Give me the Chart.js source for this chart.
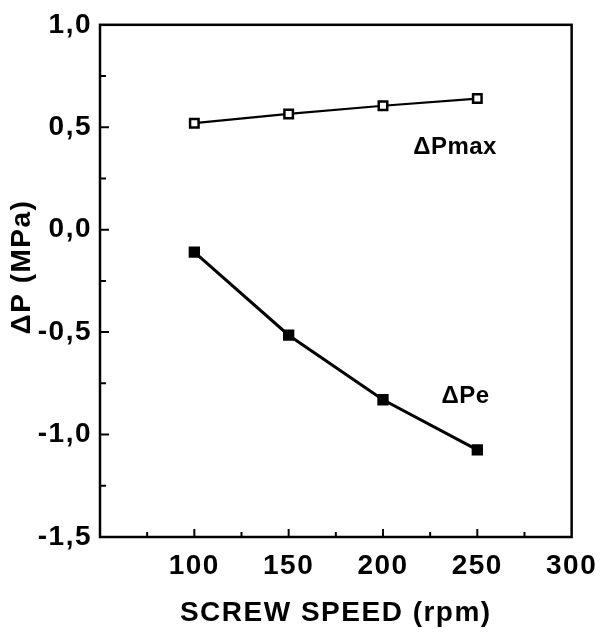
<!DOCTYPE html>
<html>
<head>
<meta charset="utf-8">
<script src="https://cdn.jsdelivr.net/npm/chart.js@4/dist/chart.umd.min.js"></script>
<style>
  body { margin: 0; background: #fff; }
</style>
</head>
<body>
<canvas id="chart" width="607" height="634"></canvas>
<script>
// screw speed (rpm)
const speeds = [100, 150, 200, 250];
// pressure difference values (MPa)
const dPmax = [0.52, 0.565, 0.605, 0.64];
const dPe = [-0.11, -0.515, -0.83, -1.075];

const seriesNames = ['\u0394Pmax', '\u0394Pe'];
// where the series names sit, in data units
const labelX = [216, 231];
const labelY = [0.40, -0.815];

const xTitle = 'SCREW SPEED (rpm)';
// leading spaces nudge the rotated title a little above centre, as in the original
const yTitle = '   \u0394P (MPa)';

const FONT = "'Liberation Sans', Arial, sans-serif";

// frame, inward ticks and series names
const decorations = {
    id: 'decorations',
    beforeDraw(chart) {
        chart.ctx.letterSpacing = '1.5px';
    },
    afterDatasetsDraw(chart) {
        const ctx = chart.ctx;
        const area = chart.chartArea;
        const xs = chart.scales.x;
        const ys = chart.scales.y;
        ctx.save();
        ctx.strokeStyle = '#000';
        ctx.lineWidth = 2.5;
        ctx.strokeRect(area.left, area.top, area.right - area.left, area.bottom - area.top);

        ctx.lineWidth = 2;
        ctx.beginPath();
        for (let v = 75; v < 300; v += 25) {
            const px = xs.getPixelForValue(v);
            const len = v % 50 === 0 ? 8 : 5;
            ctx.moveTo(px, area.bottom);
            ctx.lineTo(px, area.bottom - len);
        }
        for (let v = -1.25; v < 1; v += 0.25) {
            const py = ys.getPixelForValue(v);
            const len = Math.abs(v * 2 - Math.round(v * 2)) < 0.01 ? 9 : 6;
            ctx.moveTo(area.left, py);
            ctx.lineTo(area.left + len, py);
        }
        ctx.stroke();

        ctx.letterSpacing = '0.5px';
        ctx.fillStyle = '#000';
        ctx.font = 'bold 24px ' + FONT;
        ctx.textAlign = 'left';
        ctx.textBaseline = 'middle';
        seriesNames.forEach((name, i) => {
            ctx.fillText(name, xs.getPixelForValue(labelX[i]), ys.getPixelForValue(labelY[i]));
        });
        ctx.restore();
    }
};

const commaFormat = v => v.toFixed(1).replace('.', ',');

new Chart(document.getElementById('chart'), {
    type: 'line',
    data: {
        datasets: [{
            label: seriesNames[0],
            data: speeds.map((s, i) => ({ x: s, y: dPmax[i] })),
            borderColor: '#000',
            borderWidth: 2.2,
            pointStyle: 'rect',
            pointRadius: 6,
            pointBorderWidth: 2.5,
            pointBackgroundColor: '#fff',
            pointBorderColor: '#000',
            tension: 0
        }, {
            label: seriesNames[1],
            data: speeds.map((s, i) => ({ x: s, y: dPe[i] })),
            borderColor: '#000',
            borderWidth: 3,
            pointStyle: 'rect',
            pointRadius: 8,
            pointBorderWidth: 0,
            pointBackgroundColor: '#000',
            tension: 0
        }]
    },
    options: {
        responsive: false,
        animation: false,
        layout: { padding: { top: 19, right: 28, left: 0, bottom: 0 } },
        plugins: {
            legend: { display: false },
            tooltip: { enabled: false }
        },
        scales: {
            x: {
                type: 'linear',
                min: 50,
                max: 300,
                afterFit: scale => { scale.height = 97; },
                grid: { display: false, drawTicks: false },
                border: { display: false },
                ticks: {
                    stepSize: 50,
                    padding: 12,
                    color: '#000',
                    font: { family: FONT, size: 28, weight: 'bold' },
                    callback: v => v === 50 ? '' : v
                },
                title: {
                    display: true,
                    text: xTitle,
                    color: '#000',
                    font: { family: FONT, size: 28, weight: 'bold' },
                    padding: { top: 0, bottom: 4 }
                }
            },
            y: {
                min: -1.5,
                max: 1.0,
                afterFit: scale => { scale.width = 100; },
                grid: { display: false, drawTicks: false },
                border: { display: false },
                ticks: {
                    stepSize: 0.5,
                    padding: 8,
                    color: '#000',
                    font: { family: FONT, size: 28, weight: 'bold' },
                    callback: commaFormat
                },
                title: {
                    display: true,
                    text: yTitle,
                    color: '#000',
                    font: { family: FONT, size: 28, weight: 'bold' },
                    padding: { top: 5, bottom: 0 }
                }
            }
        }
    },
    plugins: [decorations]
});
</script>
</body>
</html>
